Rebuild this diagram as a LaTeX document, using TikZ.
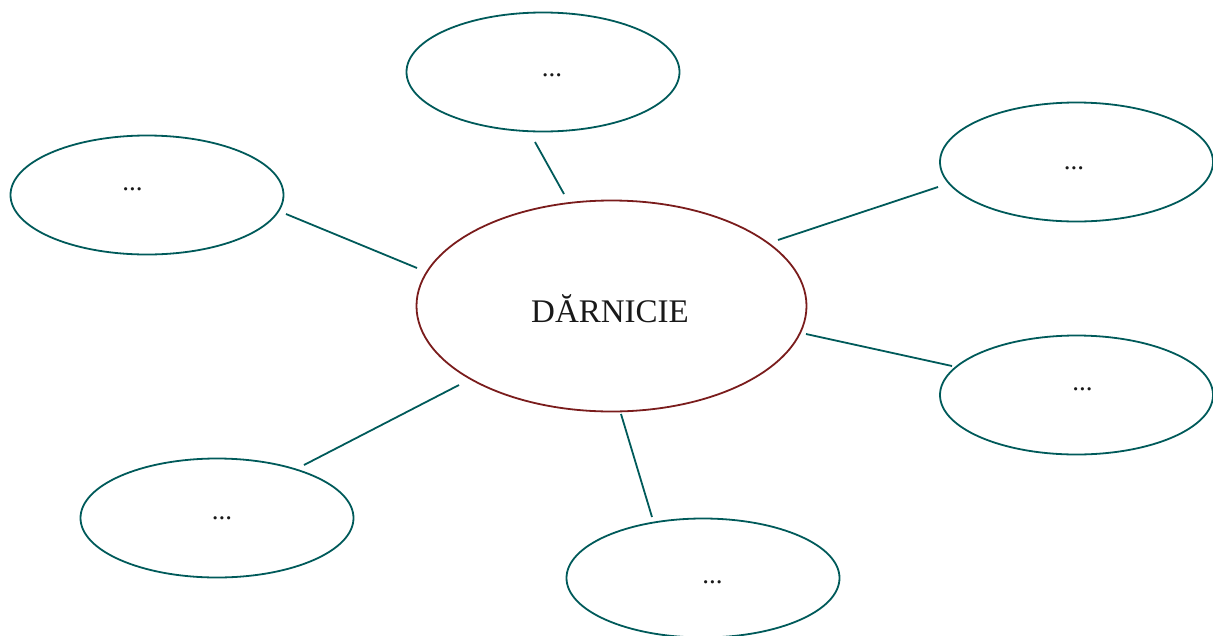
\documentclass[tikz,border=0pt]{standalone}
\usepackage{fontspec}
\setmainfont{Liberation Serif}
\usetikzlibrary{shapes.geometric}
\definecolor{hubred}{HTML}{7A1C1C}
\definecolor{spokegreen}{HTML}{005A5A}

\begin{document}
\begin{tikzpicture}[x=1pt,y=-1pt,
    hub/.style={ellipse,draw=hubred,line width=1.8pt,inner sep=0pt,
      minimum width=390pt,minimum height=211pt},
    bubble/.style={ellipse,draw=spokegreen,line width=1.8pt,inner sep=0pt,
      minimum width=273pt,minimum height=119pt},
    spoke/.style={draw=spokegreen,line width=1.8pt},
    dots/.style={font=\fontsize{27}{30}\selectfont,text=black!90,inner sep=0pt,anchor=base}]
  \useasboundingbox (0,0) rectangle (1213,635);
  % ellipses
  \node[hub] (hub) at (611.5,306) {};
  \node[bubble] (top) at (543,72) {};
  \node[bubble] (lefttop) at (147,195) {};
  \node[bubble] (righttop) at (1076.5,162) {};
  \node[bubble] (rightbot) at (1076.5,395) {};
  \node[bubble] (leftbot) at (217,518) {};
  \node[bubble] (bottom) at (703,578) {};
  % texts
  \node[font=\fontsize{33}{38}\selectfont,text=black!90] (hubtext) at (610,309) {DĂRNICIE};
  \node[dots] (toptext) at (552,76) {...};
  \node[dots] (lefttoptext) at (132.5,190) {...};
  \node[dots] (righttoptext) at (1074,169) {...};
  \node[dots] (rightbottext) at (1082.5,390) {...};
  \node[dots] (leftbottext) at (222,519) {...};
  \node[dots] (bottomtext) at (712.5,583.5) {...};
  % spoke ends
  \coordinate (top-a) at (535,142);
  \coordinate (top-b) at (564,194);
  \coordinate (lefttop-a) at (286,214);
  \coordinate (lefttop-b) at (417,268);
  \coordinate (righttop-a) at (938,187);
  \coordinate (righttop-b) at (778,240);
  \coordinate (rightbot-a) at (952,366);
  \coordinate (rightbot-b) at (806,334);
  \coordinate (leftbot-a) at (304,465);
  \coordinate (leftbot-b) at (459,385);
  \coordinate (bottom-a) at (652,517);
  \coordinate (bottom-b) at (621,414);
  % spokes
  \foreach \s in {top,lefttop,righttop,rightbot,leftbot,bottom}
    \draw[spoke] (\s-a) -- (\s-b);
\end{tikzpicture}
\end{document}
